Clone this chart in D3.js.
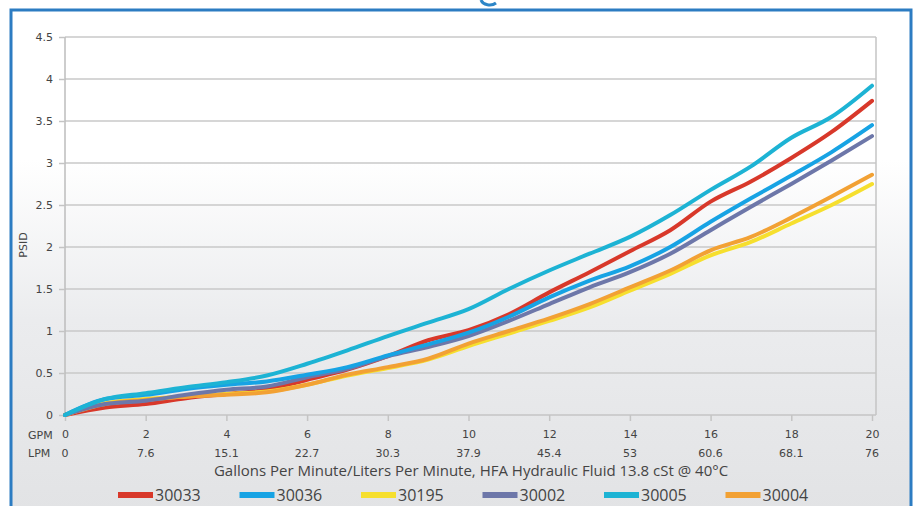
<!DOCTYPE html>
<html>
<head>
<meta charset="utf-8">
<script src="https://cdn.jsdelivr.net/npm/d3@7"></script>
<style>
  html, body { margin: 0; padding: 0; background: #fff; }
  svg { display: block; }
</style>
</head>
<body>
<svg id="chart" width="915" height="506"></svg>
<script>
// data
var gpm = d3.range(0, 21);
var gpmTicks = [0, 2, 4, 6, 8, 10, 12, 14, 16, 18, 20];
var lpmLabels = ["0", "7.6", "15.1", "22.7", "30.3", "37.9", "45.4", "53", "60.6", "68.1", "76"];
var yTicks = [0, 0.5, 1, 1.5, 2, 2.5, 3, 3.5, 4, 4.5];

var names = ["30033", "30036", "30195", "30002", "30005", "30004"];
var s30033 = [0, 0.09, 0.13, 0.2, 0.25, 0.3, 0.42, 0.54, 0.70, 0.89, 1.01, 1.2, 1.46, 1.7, 1.95, 2.2, 2.54, 2.78, 3.06, 3.37, 3.74];
var s30036 = [0, 0.19, 0.24, 0.31, 0.36, 0.4, 0.48, 0.57, 0.71, 0.84, 0.98, 1.17, 1.4, 1.6, 1.77, 2.0, 2.3, 2.58, 2.85, 3.13, 3.45];
var s30195 = [0, 0.14, 0.19, 0.22, 0.25, 0.28, 0.36, 0.47, 0.56, 0.66, 0.82, 0.97, 1.12, 1.28, 1.48, 1.68, 1.9, 2.06, 2.28, 2.5, 2.75];
var s30002 = [0, 0.13, 0.17, 0.24, 0.3, 0.34, 0.45, 0.55, 0.7, 0.81, 0.94, 1.12, 1.32, 1.52, 1.7, 1.92, 2.2, 2.48, 2.75, 3.03, 3.32];
var s30005 = [0, 0.19, 0.26, 0.33, 0.39, 0.47, 0.61, 0.77, 0.94, 1.1, 1.26, 1.5, 1.72, 1.92, 2.12, 2.38, 2.68, 2.96, 3.3, 3.55, 3.92];
var s30004 = [0, 0.13, 0.18, 0.22, 0.24, 0.27, 0.36, 0.48, 0.57, 0.67, 0.85, 1.0, 1.15, 1.32, 1.52, 1.72, 1.96, 2.12, 2.35, 2.6, 2.86];

var colors = {
  "30033": "#d8382a", "30036": "#17a3e4", "30195": "#f6df2e",
  "30002": "#6d77a9", "30005": "#1db3d4", "30004": "#f2a134"
};
var seriesValues = {
  "30033": s30033, "30036": s30036, "30195": s30195,
  "30002": s30002, "30005": s30005, "30004": s30004
};
var drawOrder = ["30033", "30195", "30004", "30002", "30036", "30005"];

var svg = d3.select("#chart");

var defs = svg.append("defs");
var grad = defs.append("linearGradient")
    .attr("id", "bg").attr("x1", 0).attr("y1", 0).attr("x2", 0).attr("y2", 1);
grad.append("stop").attr("offset", "0").attr("stop-color", "#ffffff");
grad.append("stop").attr("offset", "0.3").attr("stop-color", "#ffffff");
grad.append("stop").attr("offset", "0.62").attr("stop-color", "#ebecee");
grad.append("stop").attr("offset", "1").attr("stop-color", "#e2e3e5");

// frame
svg.append("rect").attr("x", 11).attr("y", 10).attr("width", 900).attr("height", 500)
    .attr("fill", "url(#bg)");
svg.append("path")
    .attr("d", "M11,510 V10 H911 V510")
    .attr("fill", "none").attr("stroke", "#2c7cc2").attr("stroke-width", 3);
// bit of the logo above the frame
svg.append("path")
    .attr("d", "M481,0 A9,7 0 0 0 496,3")
    .attr("fill", "none").attr("stroke", "#2c86c8").attr("stroke-width", 3);

var plotLeft = 65, plotRight = 872, plotTop = 37, plotBottom = 415, boxRight = 876;

var x = d3.scaleLinear().domain([0, 20]).range([plotLeft, plotRight]);
var y = d3.scaleLinear().domain([0, 4.5]).range([plotBottom, plotTop]);

var g = svg.append("g");

// grid lines
g.selectAll(".grid").data(yTicks.slice(1)).enter().append("line")
    .attr("x1", plotLeft).attr("x2", boxRight)
    .attr("y1", function (d) { return y(d); }).attr("y2", function (d) { return y(d); })
    .attr("stroke", "#c9c9c9").attr("stroke-width", 1.5);

// plot border
g.append("line").attr("x1", boxRight).attr("x2", boxRight).attr("y1", plotTop).attr("y2", plotBottom)
    .attr("stroke", "#c4c4c4").attr("stroke-width", 1.5);
g.append("line").attr("x1", plotLeft).attr("x2", plotLeft).attr("y1", plotTop).attr("y2", plotBottom)
    .attr("stroke", "#bdbdbd").attr("stroke-width", 1.5);
g.append("line").attr("x1", plotLeft).attr("x2", boxRight).attr("y1", plotBottom).attr("y2", plotBottom)
    .attr("stroke", "#c4c4c4").attr("stroke-width", 1.5);

// y axis
var yAxis = g.append("g")
    .attr("transform", "translate(" + plotLeft + ",0)")
    .call(d3.axisLeft(y).tickValues(yTicks).tickSize(6).tickPadding(6)
        .tickFormat(function (d) { return String(d); }));
yAxis.select(".domain").remove();
yAxis.selectAll(".tick line").attr("stroke", "#c4c4c4").attr("stroke-width", 1.5);
yAxis.selectAll(".tick text")
    .attr("fill", "#444").attr("font-family", "DejaVu Sans").attr("font-size", 11);

// x axis (GPM)
var xAxis = g.append("g")
    .attr("transform", "translate(0," + plotBottom + ")")
    .call(d3.axisBottom(x).tickValues(gpmTicks).tickSize(6).tickPadding(9));
xAxis.select(".domain").remove();
xAxis.selectAll(".tick line").attr("stroke", "#c4c4c4").attr("stroke-width", 1.5);
xAxis.selectAll(".tick text")
    .attr("fill", "#444").attr("font-family", "DejaVu Sans").attr("font-size", 11);

// LPM row
g.selectAll(".lpm").data(lpmLabels).enter().append("text")
    .attr("x", function (d, i) { return x(gpmTicks[i]); })
    .attr("y", 457)
    .attr("text-anchor", "middle")
    .attr("fill", "#444").attr("font-family", "DejaVu Sans").attr("font-size", 11)
    .text(function (d) { return d; });

g.append("text").attr("x", 28).attr("y", 439)
    .attr("fill", "#444").attr("font-family", "DejaVu Sans").attr("font-size", 11)
    .text("GPM");
g.append("text").attr("x", 28).attr("y", 457)
    .attr("fill", "#444").attr("font-family", "DejaVu Sans").attr("font-size", 11)
    .text("LPM");

// titles
g.append("text")
    .attr("transform", "translate(27,245) rotate(-90)")
    .attr("text-anchor", "middle")
    .attr("fill", "#444").attr("font-family", "DejaVu Sans").attr("font-size", 11)
    .text("PSID");
g.append("text").attr("x", 471).attr("y", 476)
    .attr("text-anchor", "middle")
    .attr("fill", "#444").attr("font-family", "Open Sans").attr("font-size", 15)
    .text("Gallons Per Minute/Liters Per Minute, HFA Hydraulic Fluid 13.8 cSt @ 40\u00B0C");

// lines
var line = d3.line()
    .x(function (d, i) { return x(gpm[i]); })
    .y(function (d) { return y(d); })
    .curve(d3.curveMonotoneX);

g.selectAll(".series").data(drawOrder).enter().append("path")
    .attr("fill", "none")
    .attr("stroke", function (d) { return colors[d]; })
    .attr("stroke-width", 4)
    .attr("stroke-linejoin", "round").attr("stroke-linecap", "round")
    .attr("d", function (d) { return line(seriesValues[d]); });

// legend
var legend = g.selectAll(".legend").data(names).enter().append("g")
    .attr("transform", function (d, i) { return "translate(" + (118 + i * 121.5) + ",495)"; });
legend.append("rect").attr("x", 0).attr("y", -3).attr("width", 35).attr("height", 6)
    .attr("fill", function (d) { return colors[d]; });
legend.append("text").attr("x", 37).attr("y", 6)
    .attr("fill", "#444").attr("font-family", "Open Sans").attr("font-size", 16)
    .text(function (d) { return d; });
</script>
</body>
</html>
